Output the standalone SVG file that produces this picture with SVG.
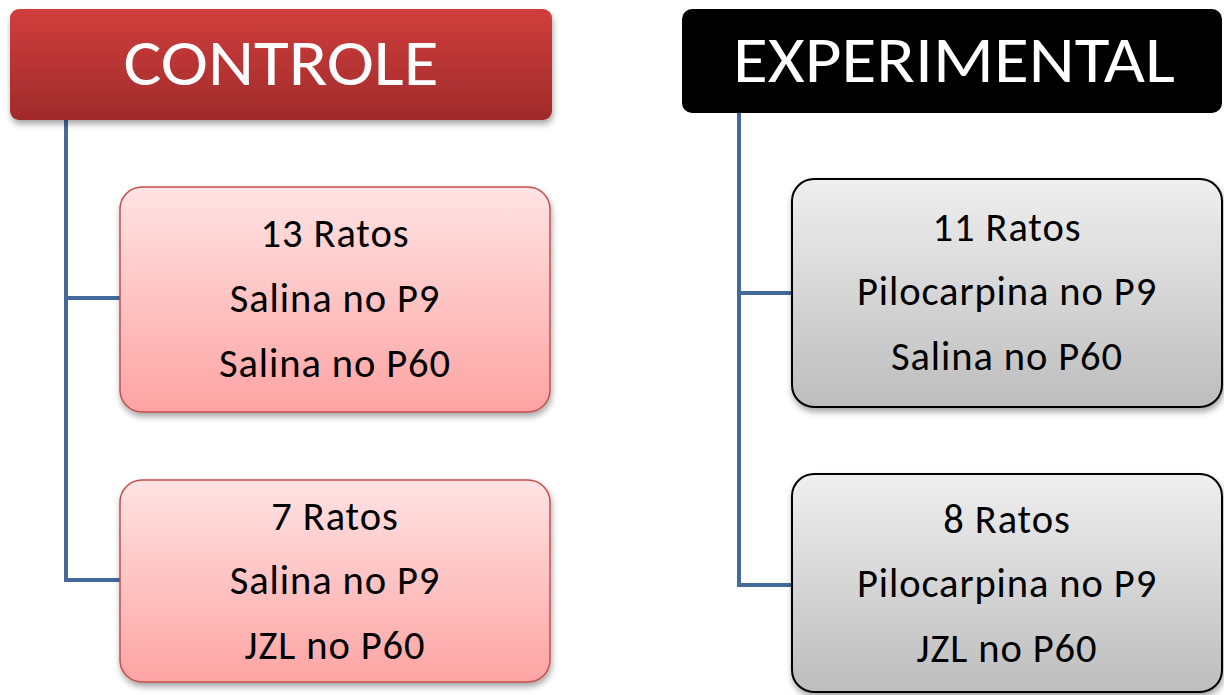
<svg xmlns="http://www.w3.org/2000/svg" width="1224" height="695" viewBox="0 0 1224 695">
<style>
text{font-family:Carlito,Lato,"Open Sans",sans-serif;text-anchor:middle}
.hd{fill:#fff;font-size:66px}
.bd{fill:#000;font-size:40.5px;letter-spacing:0.9px}
.conn{fill:none;stroke:#44699b;stroke-width:4}
.rbox{fill:url(#gPink);stroke:#c24f4c;stroke-width:1.5;filter:url(#sh)}
.gbox{fill:url(#gGray);stroke:#000;stroke-width:2;filter:url(#sh)}
</style>
<defs>
<linearGradient id="gRed" x1="0" y1="0" x2="0" y2="1"><stop offset="0" stop-color="#d03e3c"/><stop offset="1" stop-color="#a02b2b"/></linearGradient>
<linearGradient id="gPink" x1="0" y1="0" x2="0" y2="1"><stop offset="0" stop-color="#ffe3e3"/><stop offset="1" stop-color="#fda4a3"/></linearGradient>
<linearGradient id="gGray" x1="0" y1="0" x2="0" y2="1"><stop offset="0" stop-color="#efefef"/><stop offset="1" stop-color="#bdbdbd"/></linearGradient>
<filter id="sh" x="-10%" y="-10%" width="125%" height="130%"><feDropShadow dx="1" dy="4" stdDeviation="3" flood-color="#000" flood-opacity="0.35"/></filter>
</defs>
<g id="connectors">
<path class="conn" d="M66 120 V580 H120 M66 298 H120"/>
<path class="conn" d="M739 113 V585 H792 M739 293 H792"/>
</g>
<g id="controle">
<rect x="10" y="9" width="542" height="111" rx="9" fill="url(#gRed)" filter="url(#sh)"/>
<text class="hd" x="281" y="85" textLength="315" lengthAdjust="spacingAndGlyphs">CONTROLE</text>
</g>
<g id="experimental">
<rect x="682" y="9" width="540" height="104" rx="10" fill="#000"/>
<text class="hd" x="954" y="82" textLength="442" lengthAdjust="spacingAndGlyphs">EXPERIMENTAL</text>
</g>
<g id="c1">
<rect class="rbox" x="120" y="187" width="430" height="225" rx="22"/>
<text class="bd" x="335" y="247">13 Ratos</text>
<text class="bd" x="335" y="312">Salina no P9</text>
<text class="bd" x="335" y="377">Salina no P60</text>
</g>
<g id="c2">
<rect class="rbox" x="120" y="480" width="430" height="202" rx="22"/>
<text class="bd" x="335" y="530">7 Ratos</text>
<text class="bd" x="335" y="594">Salina no P9</text>
<text class="bd" x="335" y="659">JZL no P60</text>
</g>
<g id="e1">
<rect class="gbox" x="792" y="179" width="430" height="228" rx="22"/>
<text class="bd" x="1007" y="241">11 Ratos</text>
<text class="bd" x="1007" y="305">Pilocarpina no P9</text>
<text class="bd" x="1007" y="370">Salina no P60</text>
</g>
<g id="e2">
<rect class="gbox" x="792" y="474" width="430" height="218" rx="22"/>
<text class="bd" x="1007" y="533">8 Ratos</text>
<text class="bd" x="1007" y="597">Pilocarpina no P9</text>
<text class="bd" x="1007" y="662">JZL no P60</text>
</g>
</svg>
